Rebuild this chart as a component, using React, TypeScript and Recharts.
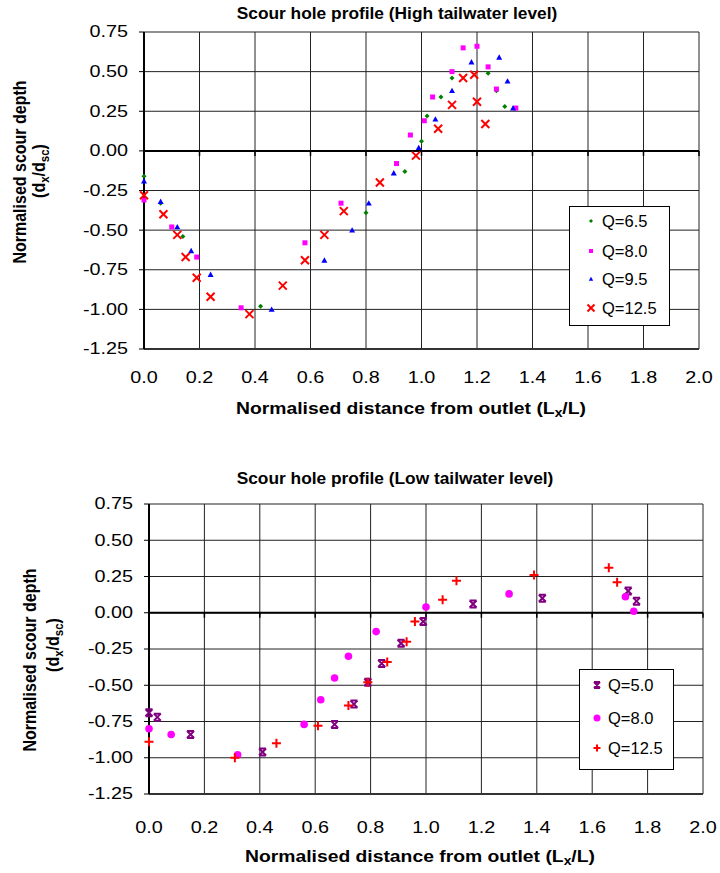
import { ScatterChart, Scatter, XAxis, YAxis, CartesianGrid, ReferenceLine } from 'recharts'

const FONT = '"Liberation Sans", Arial, sans-serif'

const X_TICKS = [0, 0.2, 0.4, 0.6, 0.8, 1.0, 1.2, 1.4, 1.6, 1.8, 2.0]
const Y_TICKS = [-1.25, -1.0, -0.75, -0.5, -0.25, 0, 0.25, 0.5, 0.75]

// high tailwater level
const HIGH_Q65: [number, number][] = [
    [0, -0.16], [0.06, -0.33], [0.14, -0.54], [0.42, -0.98], [0.8, -0.39], [0.94, -0.13],
    [1.0, 0.06], [1.02, 0.22], [1.07, 0.34], [1.11, 0.46], [1.24, 0.49], [1.27, 0.38], [1.3, 0.28],
]
const HIGH_Q80: [number, number][] = [
    [0, -0.31], [0.1, -0.48], [0.19, -0.67], [0.35, -0.99], [0.58, -0.58], [0.71, -0.33],
    [0.91, -0.08], [0.96, 0.1], [1.01, 0.19], [1.04, 0.34], [1.11, 0.5], [1.15, 0.65],
    [1.2, 0.66], [1.24, 0.53], [1.27, 0.39], [1.34, 0.27],
]
const HIGH_Q95: [number, number][] = [
    [0, -0.19], [0.06, -0.32], [0.12, -0.48], [0.17, -0.63], [0.24, -0.78], [0.46, -1.0],
    [0.65, -0.69], [0.75, -0.5], [0.81, -0.33], [0.9, -0.14], [0.99, 0.02], [1.05, 0.2],
    [1.11, 0.38], [1.18, 0.56], [1.28, 0.59], [1.31, 0.44], [1.33, 0.27],
]
const HIGH_Q125: [number, number][] = [
    [0, -0.28], [0.07, -0.4], [0.12, -0.53], [0.15, -0.67], [0.19, -0.8], [0.24, -0.92],
    [0.38, -1.03], [0.5, -0.85], [0.58, -0.69], [0.65, -0.53], [0.72, -0.38], [0.85, -0.2],
    [0.98, -0.03], [1.06, 0.14], [1.11, 0.29], [1.15, 0.46], [1.19, 0.48], [1.2, 0.31], [1.23, 0.17],
]

// low tailwater level
const LOW_Q50: [number, number][] = [
    [0, -0.69], [0.03, -0.72], [0.15, -0.84], [0.41, -0.96], [0.67, -0.77], [0.74, -0.63],
    [0.79, -0.48], [0.84, -0.35], [0.91, -0.21], [0.99, -0.06], [1.17, 0.06], [1.42, 0.1],
    [1.73, 0.15], [1.76, 0.08],
]
const LOW_Q80: [number, number][] = [
    [0, -0.8], [0.08, -0.84], [0.32, -0.98], [0.56, -0.77], [0.62, -0.6], [0.67, -0.45],
    [0.72, -0.3], [0.82, -0.13], [1.0, 0.04], [1.3, 0.13], [1.72, 0.11], [1.75, 0.01],
]
const LOW_Q125: [number, number][] = [
    [0, -0.89], [0.31, -1.0], [0.46, -0.9], [0.61, -0.78], [0.72, -0.64], [0.79, -0.48],
    [0.86, -0.34], [0.93, -0.2], [0.96, -0.06], [1.06, 0.09], [1.11, 0.22], [1.39, 0.26],
    [1.66, 0.31], [1.69, 0.21],
]

const toPoints = (arr: [number, number][]) => arr.map(([x, y]) => ({ x, y }))

// marker shapes
const diamond = (color: string, r: number) => (p: any) => (
    <path d={`M${p.cx},${p.cy - r}L${p.cx + r},${p.cy}L${p.cx},${p.cy + r}L${p.cx - r},${p.cy}Z`} fill={color} />
)
const square = (color: string, r: number) => (p: any) => (
    <rect x={p.cx - r} y={p.cy - r} width={2 * r} height={2 * r} fill={color} />
)
const triangle = (color: string, r: number) => (p: any) => (
    <path d={`M${p.cx},${p.cy - r}L${p.cx + r},${p.cy + r * 0.8}L${p.cx - r},${p.cy + r * 0.8}Z`} fill={color} />
)
const cross = (color: string, r: number) => (p: any) => (
    <path d={`M${p.cx - r},${p.cy - r}L${p.cx + r},${p.cy + r}M${p.cx + r},${p.cy - r}L${p.cx - r},${p.cy + r}`} stroke={color} strokeWidth={2} />
)
const plus = (color: string, r: number) => (p: any) => (
    <path d={`M${p.cx - r},${p.cy}L${p.cx + r},${p.cy}M${p.cx},${p.cy - r}L${p.cx},${p.cy + r}`} stroke={color} strokeWidth={2} />
)
const star = (color: string, r: number) => (p: any) => (
    <path
        d={`M${p.cx - r},${p.cy - r}L${p.cx + r},${p.cy + r}M${p.cx + r},${p.cy - r}L${p.cx - r},${p.cy + r}M${p.cx - r},${p.cy - r}L${p.cx + r},${p.cy - r}M${p.cx - r},${p.cy + r}L${p.cx + r},${p.cy + r}`}
        stroke={color}
        strokeWidth={2}
    />
)
const circle = (color: string, r: number) => (p: any) => <circle cx={p.cx} cy={p.cy} r={r} fill={color} />

const HIGH_SERIES = [
    { name: 'Q=6.5', data: HIGH_Q65, shape: diamond('#008000', 2.5), legend: diamond('#008000', 2) },
    { name: 'Q=8.0', data: HIGH_Q80, shape: square('#FF00FF', 2.5), legend: square('#FF00FF', 2) },
    { name: 'Q=9.5', data: HIGH_Q95, shape: triangle('#0000FF', 3), legend: triangle('#0000FF', 2.2) },
    { name: 'Q=12.5', data: HIGH_Q125, shape: cross('#FF0000', 4), legend: cross('#FF0000', 3.5) },
]
const LOW_SERIES = [
    { name: 'Q=5.0', data: LOW_Q50, shape: star('#800080', 3.5), legend: star('#800080', 3) },
    { name: 'Q=8.0', data: LOW_Q80, shape: circle('#FF00FF', 3.8), legend: circle('#FF00FF', 3.5) },
    { name: 'Q=12.5', data: LOW_Q125, shape: plus('#FF0000', 4.5), legend: plus('#FF0000', 3.5) },
]

function YTick({ x, y, payload }: any) {
    return (
        <text transform={`translate(${x},${y}) scale(1.2,1)`} textAnchor="end" dominantBaseline="central"
            fontSize={16.5} fontFamily={FONT} fill="#000">
            {payload.value.toFixed(2)}
        </text>
    )
}

const makeXTick = (offset: number) => ({ x, y, payload }: any) => (
    <text transform={`translate(${x},${y + offset}) scale(1.2,1)`} textAnchor="middle" dominantBaseline="central"
        fontSize={16.5} fontFamily={FONT} fill="#000">
        {payload.value.toFixed(1)}
    </text>
)

// the x axis crosses at y = 0, with small tick marks hanging below it
function ZeroAxis(props: any) {
    const { x1, y1, x2, y2 } = props
    const marks = X_TICKS.map((t) => `M${x1 + ((x2 - x1) * t) / 2},${y1}v5`).join('')
    return (
        <g>
            <line x1={x1} y1={y1} x2={x2} y2={y2} stroke="#000" strokeWidth={2} />
            <path d={marks} stroke="#000" strokeWidth={1.5} />
        </g>
    )
}

const abs = (left: number, top: number, extra: React.CSSProperties = {}): React.CSSProperties => ({
    position: 'absolute',
    left,
    top,
    whiteSpace: 'nowrap',
    fontFamily: FONT,
    ...extra,
})

function Profile({ series, width, height, margin, xOffset }: any) {
    return (
        <ScatterChart width={width} height={height} margin={margin}>
            <CartesianGrid stroke="#222" strokeWidth={1} />
            <XAxis type="number" dataKey="x" domain={[0, 2]} ticks={X_TICKS} interval={0}
                axisLine={{ stroke: '#333', strokeWidth: 2 }} tickLine={false} tickSize={0} tickMargin={0}
                tick={makeXTick(xOffset)} height={40} />
            <YAxis type="number" dataKey="y" domain={[-1.25, 0.75]} ticks={Y_TICKS} interval={0}
                axisLine={{ stroke: '#000', strokeWidth: 2 }} tickLine={{ stroke: '#000' }} tickSize={5}
                tickMargin={11} tick={<YTick />} width={60} />
            <ReferenceLine y={0} stroke="#000" strokeWidth={2} shape={ZeroAxis} />
            {series.map((s: any) => (
                <Scatter key={s.name} name={s.name} data={toPoints(s.data)} shape={s.shape} isAnimationActive={false} />
            ))}
        </ScatterChart>
    )
}

function LegendBox({ series, left, top, width, height, rows, markerX, textX, fontSize }: any) {
    return (
        <div style={abs(left, top, { width, height, border: '1px solid #000', background: '#fff', boxSizing: 'border-box' })}>
            {series.map((s: any, i: number) => (
                <div key={s.name}>
                    <svg width={12} height={12} style={{ position: 'absolute', left: markerX - 6, top: rows[i] - 6 }}>
                        {s.legend({ cx: 6, cy: 6 })}
                    </svg>
                    <div style={abs(textX, rows[i], { transform: 'translateY(-50%)', fontSize, lineHeight: 1 })}>
                        {s.name}
                    </div>
                </div>
            ))}
        </div>
    )
}

function Title({ cx, cy, children, scale = 1.05, size = 16.5 }: any) {
    return (
        <div style={abs(cx, cy, { transform: `translate(-50%,-50%) scaleX(${scale})`, fontWeight: 'bold', fontSize: size, lineHeight: 1 })}>
            {children}
        </div>
    )
}

function YTitle({ cx, cy, children }: any) {
    return (
        <div style={abs(cx, cy, { transform: 'translate(-50%,-50%) rotate(-90deg) scale(1,1.15)', fontWeight: 'bold', fontSize: 16, lineHeight: 1 })}>
            {children}
        </div>
    )
}

const sub = { fontSize: '0.72em', verticalAlign: '-0.25em' }

export default function App() {
    return (
        <div style={{ position: 'absolute', left: 0, top: 0, width: 720, height: 873, background: '#fff', fontFamily: FONT }}>
            <div style={{ position: 'absolute', left: 0, top: 0 }}>
                <Profile series={HIGH_SERIES} width={720} height={440} xOffset={29}
                    margin={{ top: 32, right: 21, left: 84, bottom: 51 }} />
            </div>
            <div style={{ position: 'absolute', left: 0, top: 440 }}>
                <Profile series={LOW_SERIES} width={720} height={433} xOffset={34}
                    margin={{ top: 64, right: 17, left: 89, bottom: 39 }} />
            </div>

            <Title cx={397} cy={13}>Scour hole profile (High tailwater level)</Title>
            <Title cx={395} cy={478}>Scour hole profile (Low tailwater level)</Title>

            <Title cx={411} cy={410} size={16.5} scale={1.17}>
                Normalised distance from outlet (L<span style={sub}>x</span>/L)
            </Title>
            <Title cx={420} cy={858} size={16.5} scale={1.17}>
                Normalised distance from outlet (L<span style={sub}>x</span>/L)
            </Title>

            <YTitle cx={20} cy={172}>Normalised scour depth</YTitle>
            <YTitle cx={41} cy={171}>(d<span style={sub}>x</span>/d<span style={sub}>sc</span>)</YTitle>
            <YTitle cx={30} cy={660}>Normalised scour depth</YTitle>
            <YTitle cx={55} cy={645}>(d<span style={sub}>x</span>/d<span style={sub}>sc</span>)</YTitle>

            <LegendBox series={HIGH_SERIES} left={569} top={206} width={101} height={120}
                rows={[14, 44, 72, 101]} markerX={21} textX={32} fontSize={16.5} />
            <LegendBox series={LOW_SERIES} left={579} top={669} width={95} height={101}
                rows={[15, 48, 78]} markerX={17} textX={28} fontSize={16.5} />
        </div>
    )
}
